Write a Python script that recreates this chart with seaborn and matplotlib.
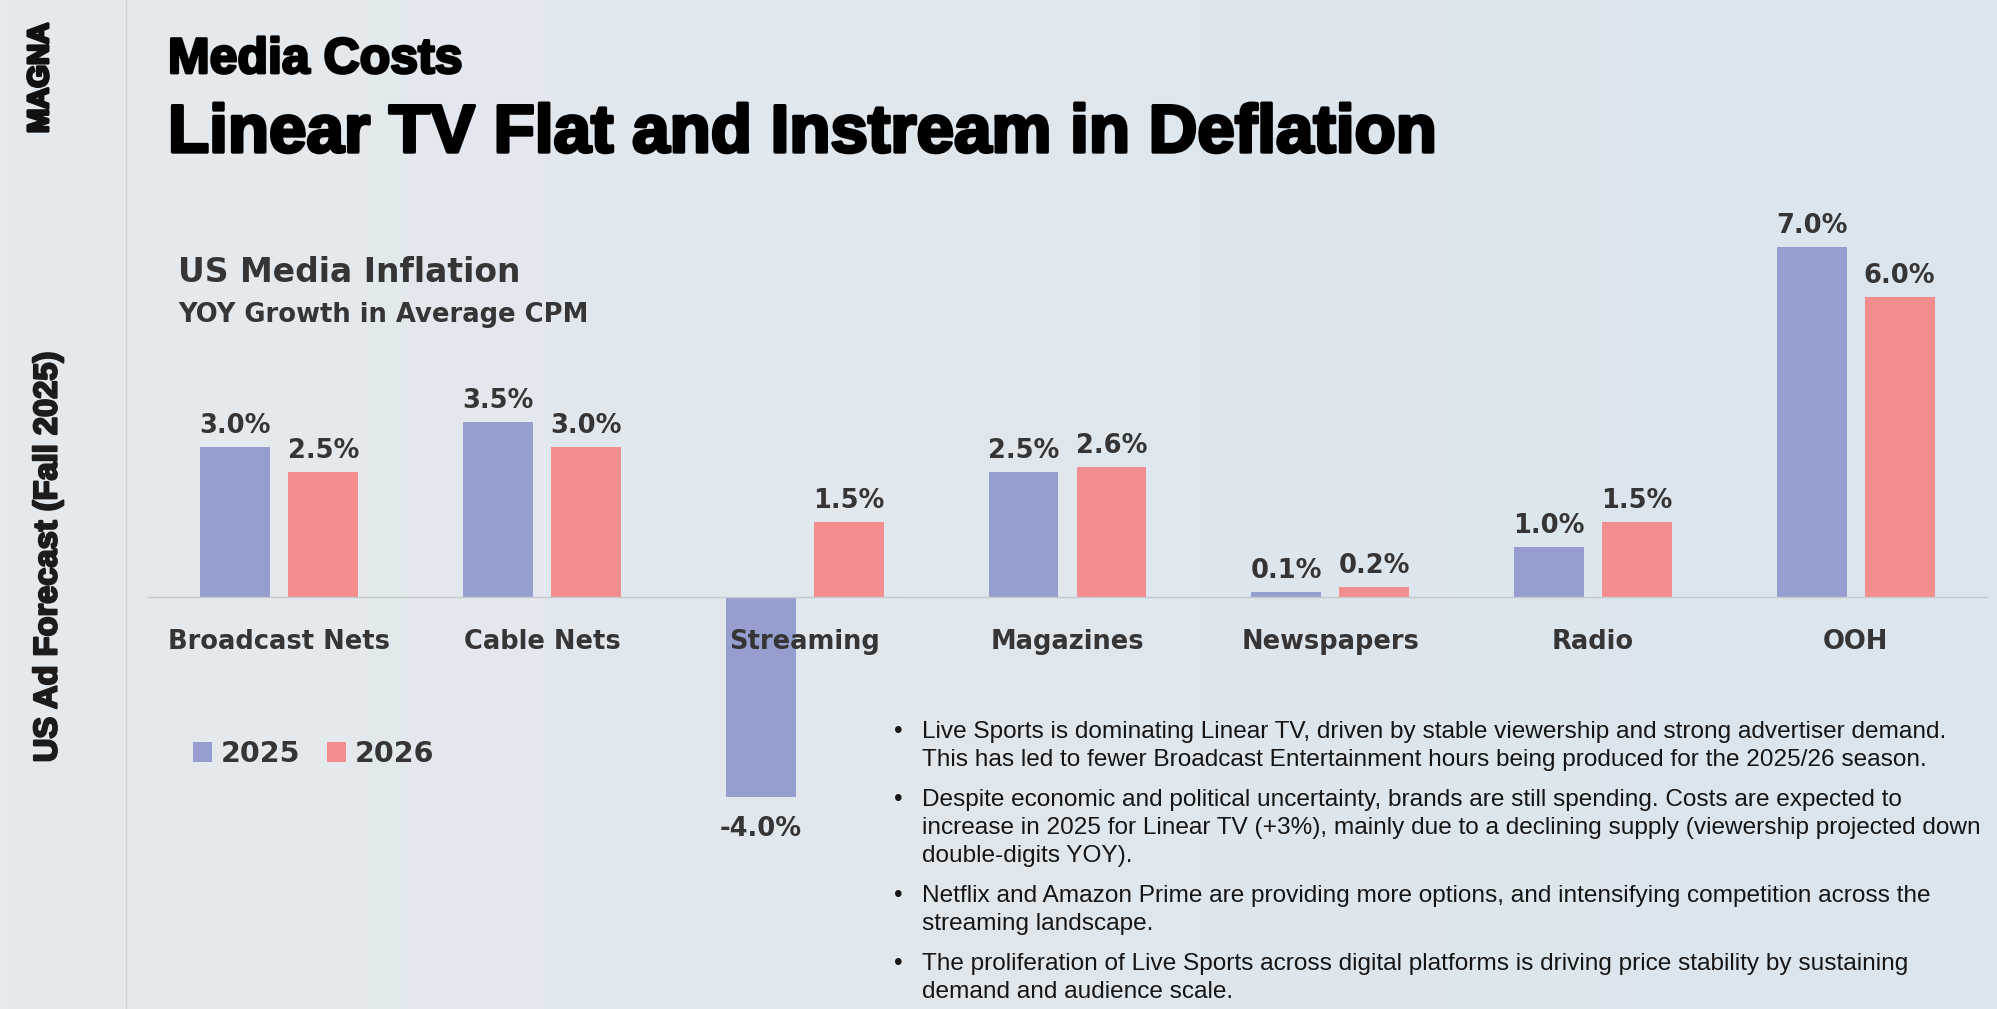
import numpy as np
import pandas as pd
import matplotlib
matplotlib.use("Agg")
import matplotlib.pyplot as plt
import matplotlib.patheffects as pe
from matplotlib.colors import to_rgb
from matplotlib.lines import Line2D
import seaborn as sns

# ---- data -------------------------------------------------------------
media = ["Broadcast Nets", "Cable Nets", "Streaming", "Magazines",
         "Newspapers", "Radio", "OOH"]
years = ["2025", "2026"]
inflation_2025 = [3.0, 3.5, -4.0, 2.5, 0.1, 1.0, 7.0]
inflation_2026 = [2.5, 3.0, 1.5, 2.6, 0.2, 1.5, 6.0]

headline = "Media Costs"
title = "Linear TV Flat and Instream in Deflation"
chart_title = "US Media Inflation"
chart_subtitle = "YOY Growth in Average CPM"
side_label = "US Ad Forecast (Fall 2025)"
brand = "MAGNA"

notes = [
    ["Live Sports is dominating Linear TV, driven by stable viewership and strong advertiser demand.",
     "This has led to fewer Broadcast Entertainment hours being produced for the 2025/26 season."],
    ["Despite economic and political uncertainty, brands are still spending. Costs are expected to",
     "increase in 2025 for Linear TV (+3%), mainly due to a declining supply (viewership projected down",
     "double-digits YOY)."],
    ["Netflix and Amazon Prime are providing more options, and intensifying competition across the",
     "streaming landscape."],
    ["The proliferation of Live Sports across digital platforms is driving price stability by sustaining",
     "demand and audience scale."],
]

df = pd.DataFrame({
    "media": media * 2,
    "year": [years[0]] * len(media) + [years[1]] * len(media),
    "growth": inflation_2025 + inflation_2026,
})

# ---- styling ----------------------------------------------------------
BLUE = "#959ecf"
PINK = "#f48d8d"
DARK = "#353535"
HEAVY = ["Liberation Sans", "DejaVu Sans"]
CHART = ["DejaVu Sans"]
BODY = ["Liberation Sans", "DejaVu Sans"]


def thick(width, color):
    """Outline stroke that makes a bold face read as a heavy one."""
    return [pe.withStroke(linewidth=width, foreground=color)]


W, H = 1997, 1009
fig = plt.figure(figsize=(W / 100, H / 100), dpi=100)
fig.patch.set_facecolor("#e1e9ee")


def fx(x):
    return x / W


def fy(y):
    return 1 - y / H


# soft paper-like backdrop, slightly bluer to the right
bg = fig.add_axes([0, 0, 1, 1], zorder=-10)
c0 = np.array(to_rgb("#e5eaed"))
c1 = np.array(to_rgb("#dae5ed"))
t = np.linspace(0, 1, 256)[None, :, None]
bg.imshow(c0 + (c1 - c0) * t, aspect="auto", extent=[0, 1, 0, 1])
bg.set_axis_off()

# left rail
fig.add_artist(Line2D([fx(126), fx(126)], [0, 1], transform=fig.transFigure,
                      color="#cbd3d8", lw=1))
fig.text(fx(40), fy(78), brand, rotation=90, ha="center", va="center",
         fontsize=21, fontweight="bold", family=HEAVY, color="#111111",
         path_effects=thick(2.2, "#111111"))
fig.text(fx(48), fy(557), side_label, rotation=90, ha="center", va="center",
         fontsize=23.5, fontweight="bold", family=HEAVY, color="#1c1c1c",
         path_effects=thick(1.6, "#1c1c1c"))

# headings
fig.text(fx(168), fy(73), headline, ha="left", va="baseline",
         fontsize=36, fontweight="bold", family=HEAVY, color="black",
         path_effects=thick(2.0, "black"))
fig.text(fx(168), fy(152), title, ha="left", va="baseline",
         fontsize=48.5, fontweight="bold", family=HEAVY, color="black",
         path_effects=thick(2.4, "black"))
fig.text(fx(178), fy(282), chart_title, ha="left", va="baseline",
         fontsize=23.8, fontweight="bold", family=CHART, color=DARK)
fig.text(fx(178), fy(322), chart_subtitle, ha="left", va="baseline",
         fontsize=18.6, fontweight="bold", family=CHART, color=DARK)

# ---- bar chart --------------------------------------------------------
ax = fig.add_axes([fx(148), fy(847), 1839 / W, 675 / H])
sns.barplot(data=df, x="media", y="growth", hue="year", order=media,
            hue_order=years, palette=[BLUE, PINK], saturation=1,
            width=0.67, gap=0.205, errorbar=None, linewidth=0, ax=ax)
ax.set_xlim(-0.5, len(media) - 0.5)
ax.set_ylim(-5, 8.5)
ax.patch.set_alpha(0)
for side in ["top", "right", "left"]:
    ax.spines[side].set_visible(False)
ax.spines["bottom"].set_position(("data", 0))
ax.spines["bottom"].set_color("#c4c9cd")
ax.spines["bottom"].set_linewidth(1.0)
ax.set_yticks([])
ax.set_xlabel("")
ax.set_ylabel("")
ax.set_xticks(range(len(media)))
ax.set_xticklabels(media, fontsize=18.5, fontweight="bold", family=CHART,
                   color=DARK)
ax.tick_params(axis="x", length=0, pad=23)
ax.xaxis.set_zorder(5)

# value labels at the end of every bar
for container, values in zip(ax.containers, [inflation_2025, inflation_2026]):
    for bar, v in zip(container, values):
        x = bar.get_x() + bar.get_width() / 2
        end = bar.get_y() + bar.get_height()
        ax.annotate(f"{v:.1f}%", (x, end),
                    xytext=(0, 6 if v >= 0 else -14), textcoords="offset points",
                    ha="center", va="bottom" if v >= 0 else "top",
                    fontsize=18.5, fontweight="bold", family=CHART, color=DARK,
                    zorder=6)

sns.move_legend(ax, "center left", bbox_to_anchor=(fx(193), fy(754)),
                bbox_transform=fig.transFigure, ncol=2, frameon=False,
                title=None, prop={"size": 20.5, "weight": "bold", "family": CHART},
                labelcolor=DARK, handlelength=0.66, handleheight=0.66,
                handletextpad=0.32, columnspacing=0.93, borderpad=0,
                borderaxespad=0)

# ---- notes ------------------------------------------------------------
note_texts = []
bullets = []
y = 732
for para in notes:
    bullets.append(fig.text(fx(898), fy(y), "\u2022", ha="center", va="center",
                            fontsize=16, family=BODY, color="#151515"))
    for line in para:
        note_texts.append(fig.text(fx(922), fy(y), line, ha="left", va="center",
                                   fontsize=16, family=BODY, color="#151515"))
        y += 28
    y += 12

# size the notes so the opening line runs out to the right margin
renderer = fig.canvas.get_renderer()
width = note_texts[0].get_window_extent(renderer).width
size = 16 * 1030 / width
for t_ in note_texts + bullets:
    t_.set_fontsize(size)

fig.savefig("out.png", dpi=100, facecolor=fig.get_facecolor())
